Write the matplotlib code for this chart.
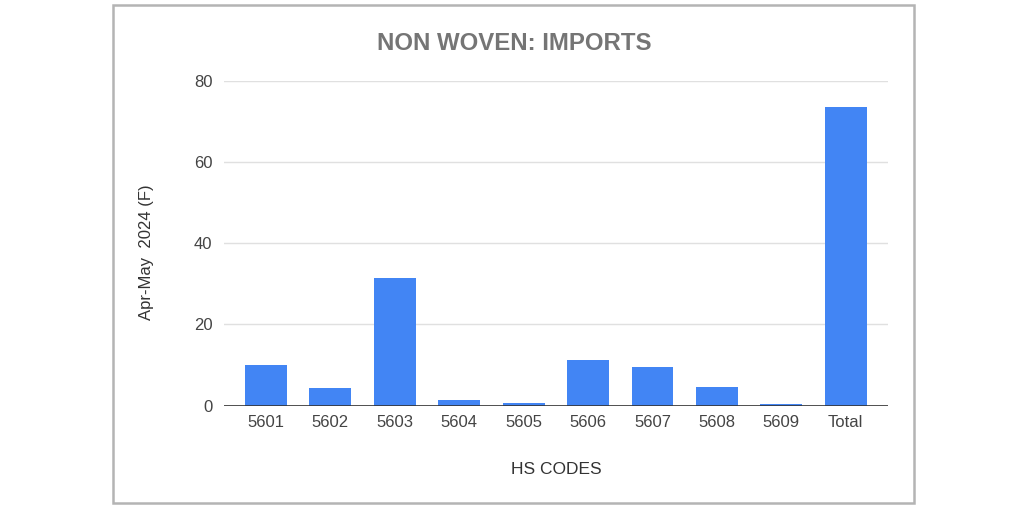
import matplotlib
matplotlib.use('Agg')
import matplotlib.pyplot as plt
from matplotlib.patches import Rectangle

plt.rcParams['font.family'] = ['Liberation Sans', 'DejaVu Sans']

# HS code categories and import values, Apr-May 2024
codes = ['5601', '5602', '5603', '5604', '5605', '5606', '5607', '5608', '5609', 'Total']
values = [9.9, 4.3, 31.4, 1.3, 0.6, 11.3, 9.5, 4.7, 0.5, 73.6]
y_ticks = [0, 20, 40, 60, 80]

fig = plt.figure(figsize=(10.24, 5.12), dpi=100)
fig.patch.set_facecolor('white')

# outer frame around the chart
fig.patches.append(Rectangle((112.7 / 1024, 9 / 512), (914 - 112.7) / 1024, (503 - 5) / 512,
                             transform=fig.transFigure, fill=False,
                             edgecolor='#b4b4b4', linewidth=1.8))

ax = fig.add_axes([223.7 / 1024, 106.3 / 512, 664.3 / 1024, 325 / 512])
x = range(len(codes))
ax.bar(x, values, width=0.65, color='#4285f4', zorder=3)

ax.set_xlim(-0.657, len(codes) - 1 + 0.657)
ax.set_ylim(0, 80)
ax.set_yticks(y_ticks)
ax.set_xticks(list(x))
ax.set_xticklabels(codes)
ax.yaxis.grid(True, color='#e0e0e0', linewidth=1, zorder=0)
ax.axhline(0, color='#333333', linewidth=1.2, zorder=4)

for s in ax.spines.values():
    s.set_visible(False)
ax.tick_params(axis='both', length=0, labelsize=12, colors='#444444')
ax.tick_params(axis='x', pad=7)
ax.tick_params(axis='y', pad=8)

ax.set_xlabel('HS CODES', fontsize=12.5, color='#333333')
ax.xaxis.set_label_coords(0.5, -0.172)
ax.set_ylabel('Apr-May  2024 (F)', fontsize=12, color='#333333')
ax.yaxis.set_label_coords(-0.105, 0.471)

fig.text(514 / 1024, 1 - 43.5 / 512, 'NON WOVEN: IMPORTS', fontsize=17.3,
         fontweight='bold', color='#757575', ha='center', va='center')

fig.savefig('out.png', dpi=100, facecolor='white')
